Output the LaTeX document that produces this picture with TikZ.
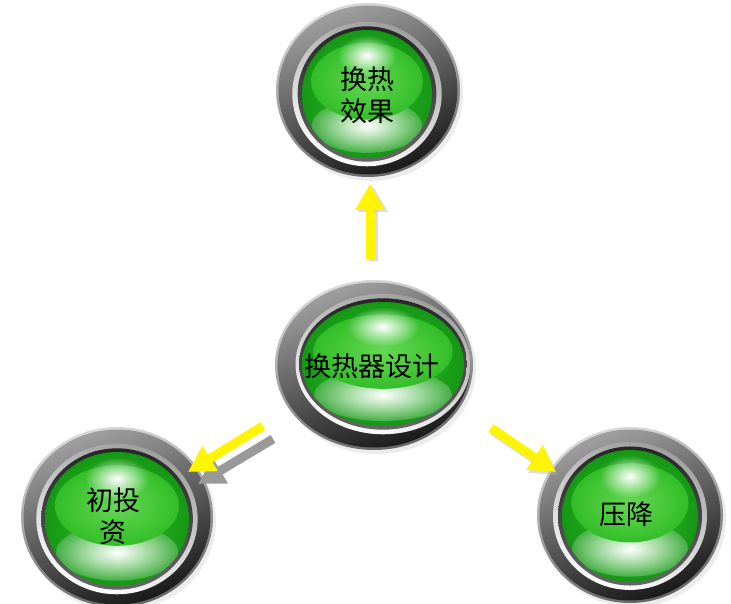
\documentclass[tikz,border=0pt]{standalone}
\usepackage{fontspec}
\newfontfamily\cjk{Noto Sans CJK SC}
\usetikzlibrary{arrows.meta,shapes.geometric,fadings}
\definecolor{gdark}{RGB}{20,150,20}
\definecolor{gmid}{RGB}{50,190,40}
\definecolor{gdisk}{RGB}{85,210,65}
\definecolor{arrowy}{RGB}{255,245,0}
\tikzfading[name=softspot, inner color=transparent!0, outer color=transparent!100]
\tikzfading[name=softband, inner color=transparent!0, outer color=transparent!80]
\tikzset{
  lbl/.style={font=\cjk\fontsize{27}{32}\selectfont, text=black, align=center, inner sep=0pt},
  btn/.style={ellipse, draw=none, inner sep=0pt},
  yarrow/.style={draw=arrowy, line width=9pt, -{Triangle[width=28pt,length=26pt]}},
  sarrow/.style={draw=gray!80, line width=9pt, -{Triangle[width=28pt,length=26pt]}},
  sarrowfaint/.style={draw=gray!60, opacity=0.45, line width=9pt, -{Triangle[width=28pt,length=26pt]}},
}
% #1,#2 outer centre; #3,#4 outer radii; #5,#6 green centre; #7,#8 green radii
\newcommand\drawbutton[8]{%
  \pgfmathsetmacro\ma{#7+0.36*(#3-#7)}\pgfmathsetmacro\mb{#8+0.36*(#4-#8)}%
  \pgfmathsetmacro\sa{#7+0.16*(#3-#7)}\pgfmathsetmacro\sb{#8+0.16*(#4-#8)}%
  \fill[black!15, opacity=0.5] (#1+3,#2+4) ellipse [x radius=#3, y radius=#4];
  \shade[top color=gray!30, bottom color=black!60, shading angle=15] (#1,#2) ellipse [x radius=#3, y radius=#4];
  \shade[top color=gray!75, bottom color=black!90, shading angle=20] (#1,#2) ellipse [x radius=#3-2.5, y radius=#4-2.5];
  \shade[top color=gray!75, bottom color=white, shading angle=-20] (#5,#6) ellipse [x radius=\ma, y radius=\mb];
  \shade[top color=black!85, bottom color=black!60] (#5,#6) ellipse [x radius=\sa, y radius=\sb];
  \begin{scope}
    \clip (#5,#6) ellipse [x radius=#7, y radius=#8];
    \shade[inner color=gmid, outer color=gdark] (#5,#6) ellipse [x radius=#7*1.05, y radius=#8*1.05];
    \fill[white, path fading=softband] (#5,#6+0.5*#8) ellipse [x radius=#7*0.85, y radius=#8*0.42];
    \shade[inner color=gdisk!90!white, outer color=gmid] (#5,#6-0.2*#8) ellipse [x radius=#7*0.86, y radius=#8*0.6];
    \fill[white, path fading=softspot] (#5,#6-0.6*#8) ellipse [x radius=#7*0.45, y radius=#8*0.32];
  \end{scope}
}
\begin{document}
\begin{tikzpicture}[x=1pt,y=-1pt]
\useasboundingbox (0,0) rectangle (731,604);
% buttons
\drawbutton{368}{90}{92}{87}{367}{94}{65}{64}
\drawbutton{374}{365}{99}{85}{383}{364}{81}{62}
\drawbutton{117}{517}{96}{90}{117}{519}{72}{67}
\drawbutton{630}{515}{93}{88}{630}{516}{68}{66}
% named nodes
\node[btn, minimum width=184pt, minimum height=174pt] (eff) at (368,90) {};
\node[btn, minimum width=198pt, minimum height=170pt] (des) at (374,365) {};
\node[btn, minimum width=192pt, minimum height=180pt] (inv) at (117,517) {};
\node[btn, minimum width=186pt, minimum height=176pt] (dp) at (630,515) {};
\node[lbl] (effT) at (367,95) {换热\\效果};
\node[lbl] (desT) at (372,366) {换热器设计};
\node[lbl] (invT) at (113,516) {初投\\资};
\node[lbl] (dpT) at (626,514) {压降};
% arrow end points
\coordinate (u1) at (370,259);
\coordinate (u2) at (370,184);
\coordinate (l1) at (263,426);
\coordinate (l2) at (188,472);
\coordinate (l1s) at (273,439);
\coordinate (l2s) at (198,484);
\coordinate (r1) at (491,428);
\coordinate (r2) at (556,472);
\draw[sarrowfaint] ([xshift=3pt,yshift=-2pt]u1) -- ([xshift=3pt,yshift=-2pt]u2);
\draw[yarrow] (u1) -- (u2);
\draw[sarrow] (l1s) -- (l2s);
\draw[yarrow] (l1) -- (l2);
\draw[sarrowfaint] ([xshift=2pt,yshift=-3pt]r1) -- ([xshift=2pt,yshift=-3pt]r2);
\draw[yarrow] (r1) -- (r2);
\end{tikzpicture}
\end{document}
